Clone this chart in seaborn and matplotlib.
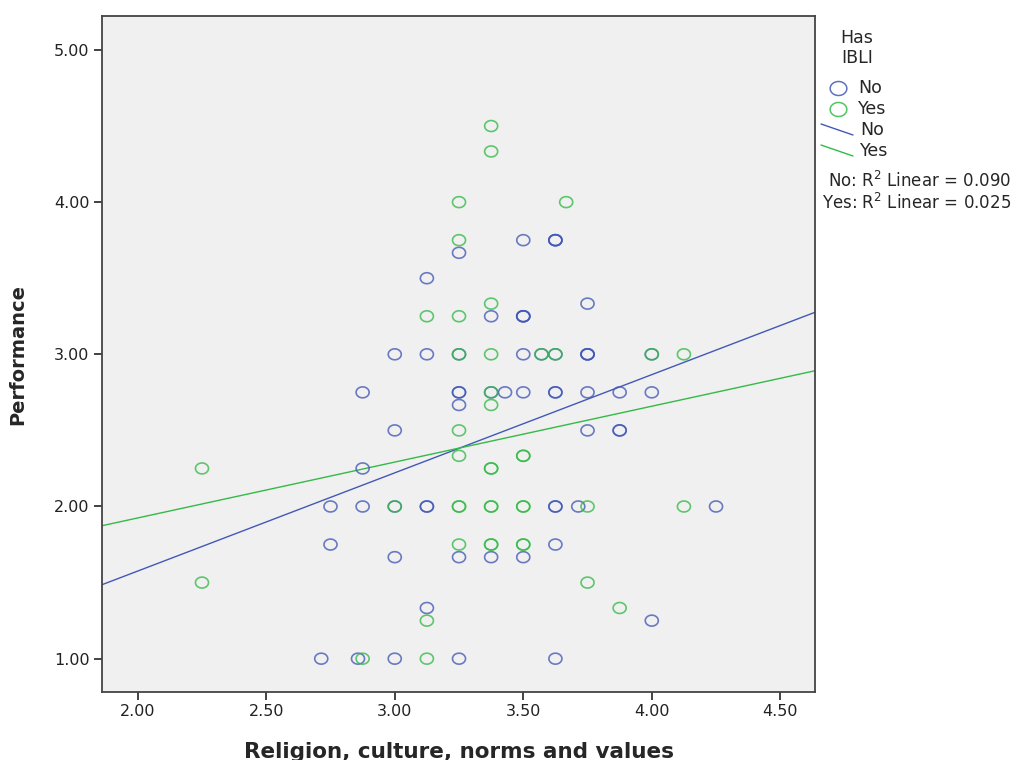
import numpy as np
import pandas as pd
import seaborn as sns
import matplotlib
matplotlib.use("Agg")
import matplotlib.pyplot as plt
from matplotlib.path import Path
from matplotlib.lines import Line2D
from matplotlib.colors import to_rgba
from matplotlib.ticker import FormatStrFormatter

# ---- data (overlapping circles counted as repeats) ----
no_x = [2.714, 2.857, 3.0, 3.25, 3.625,
        4.0,
        3.125,
        3.0, 3.25, 3.375, 3.5,
        2.75, 3.625,
        2.75, 2.875, 3.0, 3.125, 3.125, 3.625, 3.625, 3.714, 4.25,
        2.875,
        3.0, 3.75, 3.875, 3.875,
        3.25,
        2.875, 3.25, 3.25, 3.375, 3.429, 3.5, 3.625, 3.625, 3.75, 3.875, 4.0,
        3.0, 3.125, 3.25, 3.5, 3.571, 3.625, 3.75, 3.75, 3.75, 4.0,
        3.375, 3.5, 3.5, 3.5,
        3.75,
        3.125,
        3.25,
        3.5, 3.625, 3.625, 3.625]
no_y = [1.0, 1.0, 1.0, 1.0, 1.0,
        1.25,
        1.333,
        1.667, 1.667, 1.667, 1.667,
        1.75, 1.75,
        2.0, 2.0, 2.0, 2.0, 2.0, 2.0, 2.0, 2.0, 2.0,
        2.25,
        2.5, 2.5, 2.5, 2.5,
        2.667,
        2.75, 2.75, 2.75, 2.75, 2.75, 2.75, 2.75, 2.75, 2.75, 2.75, 2.75,
        3.0, 3.0, 3.0, 3.0, 3.0, 3.0, 3.0, 3.0, 3.0, 3.0,
        3.25, 3.25, 3.25, 3.25,
        3.333,
        3.5,
        3.667,
        3.75, 3.75, 3.75, 3.75]

yes_x = [2.875, 3.125,
         3.125,
         3.875,
         2.25, 3.75,
         3.25, 3.375, 3.375, 3.5, 3.5,
         3.0, 3.25, 3.25, 3.375, 3.375, 3.5, 3.5, 3.75, 4.125,
         2.25, 3.375, 3.375,
         3.25, 3.5, 3.5,
         3.25,
         3.375,
         3.375,
         3.25, 3.375, 3.571, 3.625, 4.0, 4.125,
         3.125, 3.25,
         3.375,
         3.25,
         3.25, 3.667,
         3.375,
         3.375]
yes_y = [1.0, 1.0,
         1.25,
         1.333,
         1.5, 1.5,
         1.75, 1.75, 1.75, 1.75, 1.75,
         2.0, 2.0, 2.0, 2.0, 2.0, 2.0, 2.0, 2.0, 2.0,
         2.25, 2.25, 2.25,
         2.333, 2.333, 2.333,
         2.5,
         2.667,
         2.75,
         3.0, 3.0, 3.0, 3.0, 3.0, 3.0,
         3.25, 3.25,
         3.333,
         3.75,
         4.0, 4.0,
         4.333,
         4.5]

groups = ["No", "Yes"]
r2_labels = ["0.090", "0.025"]
x_ticks = [2.0, 2.5, 3.0, 3.5, 4.0, 4.5]
y_ticks = [1.0, 2.0, 3.0, 4.0, 5.0]

df = pd.DataFrame({
    "x": no_x + yes_x,
    "y": no_y + yes_y,
    "IBLI": ["No"] * len(no_x) + ["Yes"] * len(yes_x),
})

# ---- style ----
sns.set_style("ticks")
plt.rcParams["font.family"] = ["DejaVu Sans"]
plt.rcParams["mathtext.default"] = "regular"

colors = {"No": "#4358B6", "Yes": "#34BA47"}

# slightly wide elliptical open marker (as in the reference)
t = np.linspace(0, 2 * np.pi, 60)
ell = Path(np.column_stack([np.cos(t), 0.84 * np.sin(t)]), closed=True)

W, H = 1014, 760
fig = plt.figure(figsize=(W / 100, H / 100), dpi=100)
fig.patch.set_facecolor("white")
ax = fig.add_axes([102 / W, 1 - 692 / H, (815 - 102) / W, (692 - 16) / H])
ax.set_facecolor("#F0F0F0")
ax.set_xlim(1.861, 4.635)
ax.set_ylim(0.781, 5.223)

sns.scatterplot(data=df, x="x", y="y", hue="IBLI", palette=colors,
                marker=ell, s=88, linewidth=1.2, legend=False, ax=ax,
                zorder=3)
# hollow markers with coloured, slightly translucent edges
for coll in ax.collections:
    fc = coll.get_facecolors()
    if len(fc):
        ec = fc.copy()
        ec[:, 3] = 0.78
        coll.set_edgecolors(ec)
        coll.set_facecolors("none")

for g in groups:
    sub = df[df["IBLI"] == g]
    sns.regplot(data=sub, x="x", y="y", scatter=False, ci=None,
                truncate=False, color=colors[g],
                line_kws={"linewidth": 1.0}, ax=ax)

ax.set_xlim(1.861, 4.635)
ax.set_ylim(0.781, 5.223)
ax.set_xticks(x_ticks)
ax.set_yticks(y_ticks)
ax.xaxis.set_major_formatter(FormatStrFormatter("%.2f"))
ax.yaxis.set_major_formatter(FormatStrFormatter("%.2f"))
ax.tick_params(direction="out", length=6, width=1.2, colors="#222222",
               labelsize=11.5, pad=3)
for sp in ax.spines.values():
    sp.set_visible(True)
    sp.set_color("#444444")
    sp.set_linewidth(1.3)

ax.set_xlabel("Religion, culture, norms and values", fontsize=15.5,
              fontweight="bold", labelpad=16)
ax.set_ylabel("Performance", fontsize=14, fontweight="bold", labelpad=19)

# ---- legend drawn at the right, in figure pixel coordinates ----
def fx(px):
    return px / W

def fy(py):
    return 1 - py / H

fig.text(fx(857), fy(38), "Has", ha="center", va="center", fontsize=12.5)
fig.text(fx(857), fy(58), "IBLI", ha="center", va="center", fontsize=12.5)
for i, g in enumerate(groups):
    yy = 88 + i * 21
    fig.add_artist(Line2D([fx(838)], [fy(yy)], marker=ell, markersize=12,
                          markerfacecolor="none",
                          markeredgecolor=to_rgba(colors[g], 0.85),
                          markeredgewidth=1.1, linestyle="none",
                          transform=fig.transFigure))
    fig.text(fx(858), fy(yy), g, ha="left", va="center", fontsize=12.5)
for i, g in enumerate(groups):
    yy = 130 + i * 21
    fig.add_artist(Line2D([fx(821), fx(853)], [fy(yy - 6), fy(yy + 5)],
                          color=colors[g], linewidth=1.0,
                          transform=fig.transFigure))
    fig.text(fx(860), fy(yy), g, ha="left", va="center", fontsize=12.5)
for i, (g, r) in enumerate(zip(groups, r2_labels)):
    yy = 181 + i * 22
    fig.text(fx(1011), fy(yy), f"{g}: R$^2$ Linear = {r}", ha="right",
             va="center", fontsize=12)

fig.savefig("out.png", dpi=100, facecolor="white")
